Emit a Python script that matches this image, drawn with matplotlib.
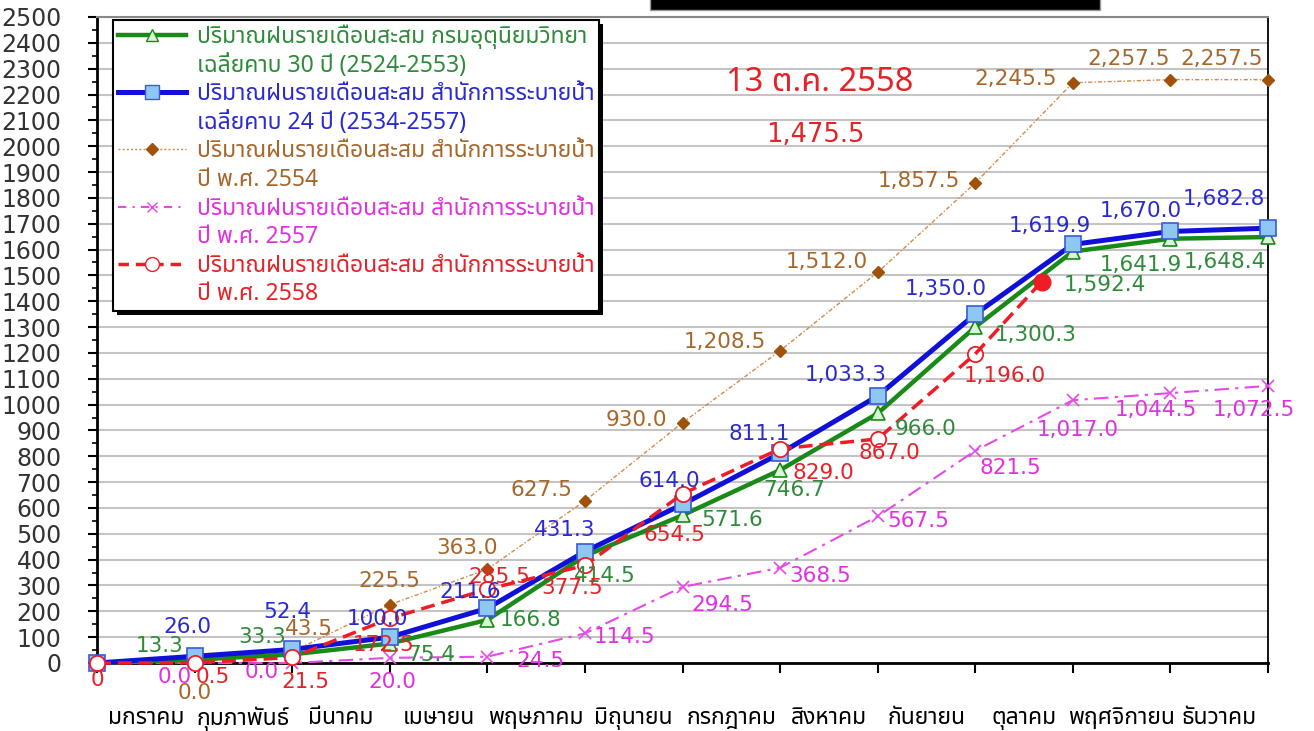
import matplotlib
matplotlib.use('Agg')
import matplotlib.pyplot as plt
from matplotlib import font_manager
from matplotlib.ft2font import FT2Font
from matplotlib.lines import Line2D
from matplotlib.patches import Rectangle
import numpy as np


def find_thai_font():
    prefer = ['Tahoma', 'Noto Sans Thai', 'Noto Sans Thai UI', 'Loma', 'Garuda',
              'Sarabun', 'Tlwg Typo', 'Kinnari', 'Norasi', 'Leelawadee UI']
    found = []
    for f in font_manager.fontManager.ttflist:
        try:
            cmap = FT2Font(f.fname).get_charmap()
        except Exception:
            continue
        if 0x0E01 in cmap and 0x0E21 in cmap:
            found.append(f.name)
    for p in prefer:
        if p in found:
            return p
    return found[0] if found else 'DejaVu Sans'


thai = find_thai_font()
plt.rcParams['font.family'] = [thai, 'DejaVu Sans']

# ---- data ----
months = ['มกราคม', 'กุมภาพันธ์', 'มีนาคม', 'เมษายน', 'พฤษภาคม', 'มิถุนายน',
          'กรกฎาคม', 'สิงหาคม', 'กันยายน', 'ตุลาคม', 'พฤศจิกายน', 'ธันวาคม']
month_end = list(range(13))

avg30 = [0, 13.3, 33.3, 75.4, 166.8, 414.5, 571.6, 746.7, 966.0, 1300.3, 1592.4, 1641.9, 1648.4]
avg24 = [0, 26.0, 52.4, 100.0, 211.6, 431.3, 614.0, 811.1, 1033.3, 1350.0, 1619.9, 1670.0, 1682.8]
y2554 = [0, 0.0, 43.5, 225.5, 363.0, 627.5, 930.0, 1208.5, 1512.0, 1857.5, 2245.5, 2257.5, 2257.5]
y2557 = [0, 0.0, 0.0, 20.0, 24.5, 114.5, 294.5, 368.5, 567.5, 821.5, 1017.0, 1044.5, 1072.5]
y2558 = [0, 0.5, 21.5, 172.5, 285.5, 377.5, 654.5, 829.0, 867.0, 1196.0, 1475.5]
y2558_x = [0, 1, 2, 3, 4, 5, 6, 7, 8, 9, 9.68]   # last point = 13 ต.ค. 2558

legend_lines = [
    'ปริมาณฝนรายเดือนสะสม กรมอุตุนิยมวิทยา', 'เฉลี่ยคาบ 30 ปี (2524-2553)',
    'ปริมาณฝนรายเดือนสะสม สำนักการระบายน้ำ', 'เฉลี่ยคาบ 24 ปี (2534-2557)',
    'ปริมาณฝนรายเดือนสะสม สำนักการระบายน้ำ', 'ปี พ.ศ. 2554',
    'ปริมาณฝนรายเดือนสะสม สำนักการระบายน้ำ', 'ปี พ.ศ. 2557',
    'ปริมาณฝนรายเดือนสะสม สำนักการระบายน้ำ', 'ปี พ.ศ. 2558',
]

# label offsets in pixels (dx, dy) for points 1..12 (red: 0..9)
off30 = [(-35, 14), (-30, 17), (42, -11), (43, 0), (20, -20), (50, -5), (14, -20),
         (48, -16), (60, -8), (32, -33), (-30, -26), (-43, -25)]
off24 = [(-7, 29), (-5, 37), (-12, 18), (-17, 16), (-20, 22), (-13, 23), (-21, 19),
         (-32, 21), (-30, 25), (-23, 18), (-30, 20), (-44, 29)]
off54 = [(0, -30), (17, 23), (0, 24), (-20, 21), (-43, 11), (-46, 3), (-55, 9),
         (-51, 10), (-56, 2), (-57, 4), (-42, 21), (-46, 21)]
off57 = [(-20, -14), (-30, -9), (3, -24), (53, -4), (40, -4), (40, -18), (40, -8),
         (41, -5), (35, -17), (5, -30), (-15, -17), (-14, -24)]
off58 = [(0, -17), (18, -14), (13, -25), (-6, -27), (12, 12), (-13, -23), (-8, -41),
         (43, -24), (12, -14), (30, -22)]

c_green, t_green = '#178a17', '#2e8b3a'
c_blue, t_blue = '#1010d8', '#2a2ad0'
c_brown, m_brown, t_brown = '#d08a48', '#a0520a', '#a8662a'
c_mag, t_mag = '#e64ae6', '#e030e0'
c_red, t_red = '#ee1c25', '#e52228'

fig = plt.figure(figsize=(13.14, 7.31), dpi=100)
ax = fig.add_axes([97 / 1314, 1 - 663 / 731, (1268 - 97) / 1314, (663 - 17) / 731])

ax.plot(month_end, y2554, color=c_brown, lw=1.0, ls=(0, (3, 1.5, 1, 1.5)),
        marker='D', ms=6, mfc=m_brown, mec=m_brown, zorder=3, clip_on=False)
ax.plot(month_end, y2557, color=c_mag, lw=1.5, ls=(0, (7, 3, 1.5, 3)),
        marker='x', ms=8, mew=1.2, mec=c_mag, zorder=3, clip_on=False)
ax.plot(month_end, avg30, color=c_green, lw=3.2, marker='^', ms=10,
        mfc='#d8f5d8', mec=c_green, mew=1.2, zorder=4, clip_on=False)
ax.plot(month_end, avg24, color=c_blue, lw=3.6, marker='s', ms=11,
        mfc='#8ec8f2', mec='#3a5ad8', mew=1.2, zorder=5, clip_on=False)
ax.plot(y2558_x[:-1], y2558[:-1], color=c_red, lw=2.5, ls=(0, (4, 2)), marker='o', ms=11,
        mfc='white', mec=c_red, mew=1.3, zorder=6, clip_on=False)
ax.plot(y2558_x[-2:], y2558[-2:], color=c_red, lw=2.5, ls=(0, (4, 2)), zorder=6)
ax.plot(y2558_x[-1], y2558[-1], marker='o', ms=12, color=c_red, zorder=7)


def put_labels(xs, ys, offs, color, start):
    for i, (dx, dy) in enumerate(offs):
        k = start + i
        v = ys[k]
        txt = '0' if (v == 0 and k == 0) else f'{v:,.1f}'
        ax.annotate(txt, (xs[k], v), xytext=(dx, dy), textcoords='offset pixels',
                    ha='center', va='center', fontsize=15.5, color=color,
                    family='DejaVu Sans', zorder=8, annotation_clip=False)


put_labels(month_end, y2554, off54, t_brown, 1)
put_labels(month_end, y2557, off57, t_mag, 1)
put_labels(month_end, avg30, off30, t_green, 1)
put_labels(month_end, avg24, off24, t_blue, 1)
put_labels(y2558_x, y2558, off58, t_red, 0)

ax.text(0.617, 0.898, '13 ต.ค. 2558', transform=ax.transAxes, ha='center', va='center',
        fontsize=23.5, color=t_red)
ax.text(0.613, 0.817, f'{y2558[-1]:,.1f}', transform=ax.transAxes, ha='center', va='center',
        fontsize=18.5, color=t_red, family='DejaVu Sans')

# axes
ax.set_xlim(0, 12)
ax.set_ylim(0, 2500)
ax.set_yticks(np.arange(0, 2501, 100))
ax.set_yticks(np.arange(50, 2500, 100), minor=True)
ax.set_xticks(month_end)
ax.set_xticks(np.arange(12) + 0.5, minor=True)
ax.set_xticklabels(months, minor=True)
ax.tick_params(axis='x', which='major', length=7, width=1.5, labelbottom=False)
ax.tick_params(axis='x', which='minor', length=0, pad=31, labelsize=16.5)
ax.tick_params(axis='y', which='major', length=6.5, width=1.5, pad=19, labelsize=17,
               labelcolor='#333333')
ax.tick_params(axis='y', which='minor', length=3.6, width=1.2)
for lab in ax.get_yticklabels():
    lab.set_family('DejaVu Sans')
ax.grid(axis='y', which='major', color='#c4c4c4', lw=1.5, zorder=0)
ax.set_axisbelow(True)
ax.spines['left'].set_linewidth(2)
ax.spines['bottom'].set_linewidth(2)
ax.spines['right'].set_linewidth(1.3)
ax.spines['top'].set_color('#888888')
ax.spines['top'].set_linewidth(1.5)

# legend
handles = [
    Line2D([], [], color=c_green, lw=3.2, marker='^', ms=9, mfc='#d8f5d8', mec=c_green),
    Line2D([], [], ls='none'),
    Line2D([], [], color=c_blue, lw=3.6, marker='s', ms=10, mfc='#8ec8f2', mec='#3a5ad8'),
    Line2D([], [], ls='none'),
    Line2D([], [], color=c_brown, lw=1.0, ls=(0, (1.5, 1.5)), marker='D', ms=6, mfc=m_brown, mec=m_brown),
    Line2D([], [], ls='none'),
    Line2D([], [], color=c_mag, lw=1.5, ls=(0, (4, 3, 1, 3)), marker='x', ms=7, mec=c_mag),
    Line2D([], [], ls='none'),
    Line2D([], [], color=c_red, lw=2.5, ls=(0, (3, 2)), marker='o', ms=10, mfc='white', mec=c_red),
    Line2D([], [], ls='none'),
]
leg = ax.legend(handles, legend_lines, loc='upper left', bbox_to_anchor=(113 / 1314, 1 - 20 / 731),
                bbox_transform=fig.transFigure, borderaxespad=0, fontsize=16.5, handlelength=3.0,
                handletextpad=0.45, labelspacing=0.2, borderpad=0.2, fancybox=False,
                edgecolor='black', framealpha=1)
leg.get_frame().set_linewidth(1.5)
text_colors = [t_green, t_green, t_blue, t_blue, t_brown, t_brown, t_mag, t_mag, t_red, t_red]
for t, c in zip(leg.get_texts(), text_colors):
    t.set_color(c)
for t in leg.get_texts()[8:]:
    t.set_fontweight('bold')
leg.set_zorder(10)

# black drop shadow behind the legend box
fig.canvas.draw()
bb = leg.get_window_extent()
shadow = Rectangle((bb.x0 + 4, bb.y0 - 4), bb.width, bb.height, transform=None,
                   facecolor='black', edgecolor='none', zorder=9.5)
ax.add_artist(shadow)

# partial title box at the top
fig.patches.append(Rectangle((650 / 1314, 1 - 10 / 731), 450 / 1314, 0.05, transform=fig.transFigure,
                             facecolor='black', edgecolor='#999999', lw=1))

fig.savefig('out.png', dpi=100)
